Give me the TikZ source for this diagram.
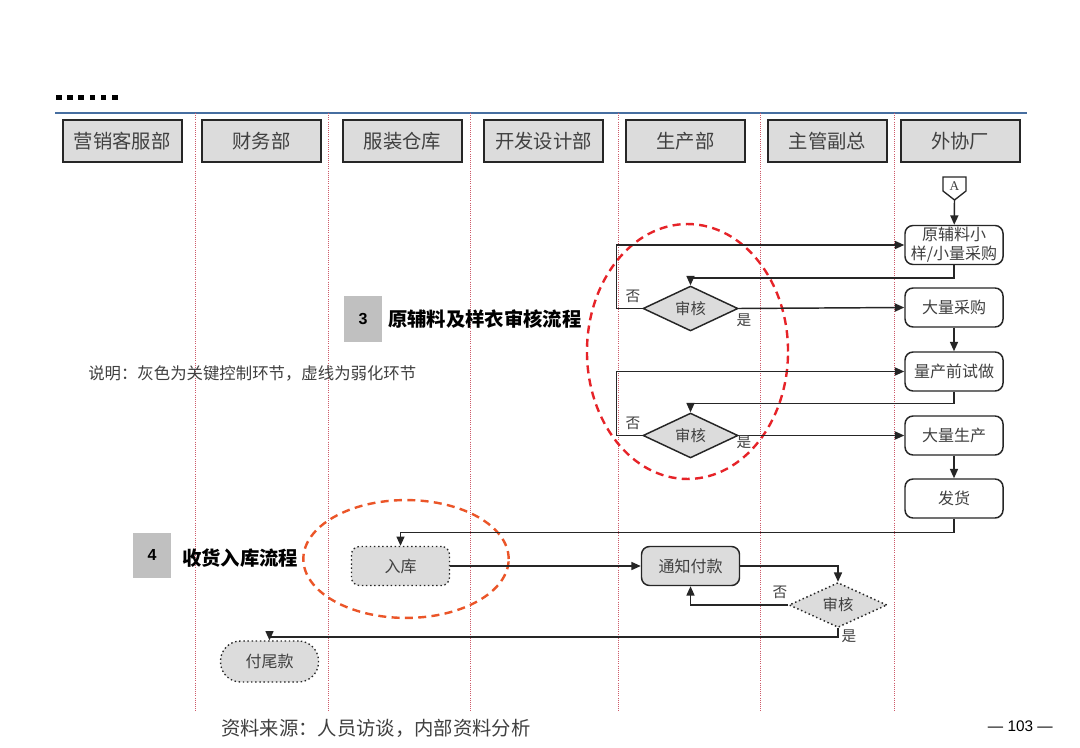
\documentclass[tikz,border=0pt]{standalone}
\usepackage{fontspec}
\setmainfont{Noto Sans CJK SC}
\newfontfamily\latinsans{Liberation Sans}
\newfontfamily\latinserif{Liberation Serif}
\usetikzlibrary{shapes.geometric, arrows.meta}
\definecolor{lanered}{RGB}{205,90,105}
\definecolor{rulerblue}{RGB}{70,110,160}
\definecolor{boxgray}{RGB}{220,220,220}
\definecolor{numgray}{RGB}{192,192,192}
\definecolor{textgray}{RGB}{64,64,64}
\definecolor{ovalred}{RGB}{230,35,40}
\definecolor{ovalorange}{RGB}{235,85,40}
\tikzset{
  lanehead/.style={draw=black!85, line width=1.5pt, fill=boxgray, inner sep=0pt,
    minimum width=119*0.75pt, minimum height=42*0.75pt,
    font=\fontsize{14.5}{16}\selectfont, text=textgray},
  stepbox/.style={draw=black!85, line width=1.1pt, fill=white, rounded corners=6pt,
    minimum width=98*0.75pt, minimum height=39*0.75pt, inner sep=0pt, align=center,
    font=\fontsize{12}{14.5}\selectfont, text=textgray},
  keybox/.style={stepbox, fill=boxgray},
  weakbox/.style={stepbox, fill=boxgray, dotted, line width=1pt},
  check/.style={diamond, draw=black!85, line width=1.1pt, fill=boxgray, inner sep=0pt,
    minimum width=95*0.75pt, minimum height=39*0.75pt,
    font=\fontsize{11.5}{13}\selectfont, text=textgray},
  flow/.style={-{Triangle[length=7pt,width=6pt]}, line width=1.1pt, draw=black!85},
  answer/.style={font=\fontsize{11}{13}\selectfont, text=textgray, inner sep=0pt},
  oval/.style={dash pattern=on 6pt off 4pt, line width=1.8pt},
  numbox/.style={fill=numgray, minimum width=38*0.75pt, minimum height=45*0.75pt,
    inner sep=0pt, font=\latinsans\bfseries\fontsize{12}{14}\selectfont},
  sectitle/.style={anchor=west, inner sep=0pt, font=\bfseries\fontsize{14.5}{16}\selectfont}
}

\begin{document}
\begin{tikzpicture}[x=0.75pt, y=-0.75pt]
  \useasboundingbox (0,0) rectangle (1080,748);
  \fill[white] (0,0) rectangle (1080,748);

  % Top marks and ruler
  \foreach \i in {0,...,5} {
      \fill[black] ({56+11.2*\i},95) rectangle ++(5.5,5.5);
    }
  \draw[rulerblue, line width=1.2pt] (55,113) -- (1027,113);

  % Swim lanes
  \foreach \xl in {195,328,470,618,760,894} {
      \draw[lanered, densely dotted, line width=0.6pt] (\xl,113) -- (\xl,712);
    }
  \foreach \i/\xc/\name in {1/122/营销客服部, 2/261.5/财务部, 3/402.5/服装仓库,
      4/543.5/开发设计部, 5/685.5/生产部, 6/827.5/主管副总, 7/960/外协厂} {
      \node[lanehead] (head\i) at (\xc,141) {\name};
    }

  % Section titles
  \node[numbox] (num3) at (363,319) {3};
  \node[sectitle] (title3) at (388,319) {原辅料及样衣审核流程};
  \node[anchor=west, inner sep=0pt, font=\fontsize{12.3}{14}\selectfont, text=textgray]
    (note) at (88,373) {说明：灰色为关键控制环节，虚线为弱化环节};
  \node[numbox] (num4) at (152,555) {4};
  \node[sectitle] (title4) at (182,558) {收货入库流程};

  % Red rings
  \draw[oval, ovalred] (687.5,351.5) ellipse [x radius=75.4pt, y radius=95.6pt];
  \draw[oval, ovalorange] (406,559) ellipse [x radius=77pt, y radius=44.2pt];

  % Off-page connector
  \draw[black!85, line width=1pt] (943,177) -- (966,177) -- (966,191) -- (954.5,200)
    -- (943,191) -- cycle;
  \node[font=\latinserif\fontsize{10}{12}\selectfont, text=textgray] (conA) at (954.5,186) {A};
  \coordinate (Atip) at (954.5,200);

  % Steps of the partner factory
  \node[stepbox] (sample) at (954,245) {原辅料小\\样/小量采购};
  \node[stepbox] (bulkbuy) at (954,307.5) {大量采购};
  \node[stepbox] (trial) at (954,371.5) {量产前试做};
  \node[stepbox] (bulkmake) at (954,435.5) {大量生产};
  \node[stepbox] (ship) at (954,498.5) {发货};

  % Checks and payment
  \node[check] (check1) at (690.5,308.5) {审核};
  \node[check] (check2) at (690.5,435.5) {审核};
  \node[check, dotted, minimum width=98*0.75pt] (check3) at (838,605) {审核};
  \node[weakbox] (store) at (400.5,566) {入库};
  \node[keybox] (notify) at (690.5,566) {通知付款};
  \node[weakbox, rounded corners=15pt, minimum height=41*0.75pt] (rest) at (269.5,661.5) {付尾款};

  % Connectors
  \draw[flow] (Atip) -- (sample);
  \draw[flow] (sample.south) -- ++(0,13) -| (check1.north);
  \draw[flow] (check1.east) -- (bulkbuy.west);
  \draw[flow] (check1.west) -- ++(-26,0) |- (sample.west);
  \draw[flow] (bulkbuy) -- (trial);
  \draw[flow] (trial.south) -- ++(0,12) -| (check2.north);
  \draw[flow] (check2.east) -- (bulkmake.west);
  \draw[flow] (check2.west) -- ++(-26,0) |- (trial.west);
  \draw[flow] (bulkmake) -- (ship);
  \draw[flow] (ship.south) -- ++(0,14) -| (store.north);
  \draw[flow] (store.east) -- (notify.west);
  \draw[flow] (notify.east) -| (check3.north);
  \draw[flow] (check3.west) -| (notify.south);
  \draw[flow] (check3.south) -- ++(0,9) -| (rest.north);

  % Answers
  \node[answer] (no1) at (633,296) {否};
  \node[answer] (yes1) at (744,320) {是};
  \node[answer] (no2) at (633,423) {否};
  \node[answer] (yes2) at (744,442) {是};
  \node[answer] (no3) at (780,592) {否};
  \node[answer] (yes3) at (849,636) {是};

  % Footer
  \node[anchor=west, inner sep=0pt, font=\fontsize{14.5}{16}\selectfont, text=textgray]
    (source) at (221,728) {资料来源：人员访谈，内部资料分析};
  \node[anchor=east, inner sep=0pt, font=\latinsans\fontsize{11.5}{13}\selectfont]
    (page) at (1053,726) {— 103 —};
\end{tikzpicture}
\end{document}
